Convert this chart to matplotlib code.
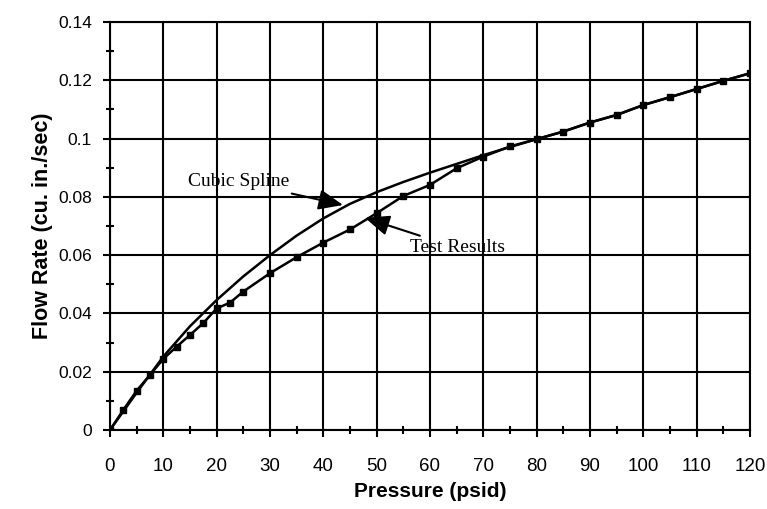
import matplotlib.pyplot as plt
from matplotlib.ticker import MultipleLocator

# Test results (measured)
test_p = [0, 2.5, 5, 7.5, 10, 12.5, 15, 17.5, 20, 22.5, 25, 30, 35, 40, 45, 50, 55,
          60, 65, 70, 75, 80, 85, 90, 95, 100, 105, 110, 115, 120]
test_q = [0, 0.0069, 0.0135, 0.0189, 0.0244, 0.0286, 0.0326, 0.0367, 0.0417, 0.0437,
          0.0475, 0.0538, 0.0593, 0.0643, 0.0688, 0.0744, 0.0803, 0.0841, 0.0898,
          0.0938, 0.0973, 0.0998, 0.1024, 0.1055, 0.1081, 0.1115, 0.1142, 0.1170,
          0.1198, 0.1224]

# Cubic spline fit
spline_p = [0, 5, 10, 15, 20, 25, 30, 35, 40, 45, 50, 55, 60, 65, 70, 75, 80,
            85, 90, 95, 100, 105, 110, 115, 120]
spline_q = [0, 0.0128, 0.0252, 0.0356, 0.0446, 0.0527, 0.0600, 0.0667, 0.0726,
            0.0776, 0.0816, 0.0851, 0.0883, 0.0913, 0.0943, 0.0971, 0.0998,
            0.1024, 0.1055, 0.1081, 0.1115, 0.1142, 0.1170, 0.1198, 0.1224]

fig = plt.figure(figsize=(7.67, 5.09), dpi=100)
ax = fig.add_axes([0.1434, 0.1552, 0.8344, 0.8016])

ax.plot(spline_p, spline_q, color='black', lw=1.8, zorder=3)
ax.plot(test_p, test_q, color='black', lw=1.8, marker='s', markersize=4.5, zorder=4)

ax.set_xlim(0, 120)
ax.set_ylim(0, 0.14)
ax.xaxis.set_major_locator(MultipleLocator(10))
ax.xaxis.set_minor_locator(MultipleLocator(5))
ax.yaxis.set_minor_locator(MultipleLocator(0.01))
ax.set_yticks([0, 0.02, 0.04, 0.06, 0.08, 0.1, 0.12, 0.14])
ax.set_yticklabels(['0', '0.02', '0.04', '0.06', '0.08', '0.1', '0.12', '0.14'])

ax.grid(True, which='major', color='black', lw=1.5)
for s in ax.spines.values():
    s.set_linewidth(1.5)
ax.tick_params(which='major', direction='out', length=5, width=1.5)
ax.tick_params(which='minor', direction='inout', length=6, width=1.5)
ax.tick_params(axis='x', which='major', labelsize=13.5, pad=15)
ax.tick_params(axis='y', which='major', labelsize=12.5, pad=8)
for lab in ax.get_xticklabels() + ax.get_yticklabels():
    lab.set_family('Liberation Sans')

ax.set_xlabel('Pressure (psid)', fontsize=15, fontweight='bold',
              family='Liberation Sans', labelpad=5)
ax.set_ylabel('Flow Rate (cu. in./sec)', fontsize=15.5, fontweight='bold',
              family='Liberation Sans', labelpad=4)

arrow = dict(arrowstyle='-|>,head_length=0.6,head_width=0.25', color='black',
             lw=1.5, mutation_scale=25, shrinkA=2, shrinkB=0)
ax.annotate('Cubic Spline', xy=(43.7, 0.0772), xytext=(14.6, 0.0852),
            fontsize=14, family='Liberation Serif', va='center', ha='left',
            arrowprops=arrow)
ax.annotate('Test Results', xy=(47.8, 0.0728), xytext=(56.2, 0.0625),
            fontsize=14, family='Liberation Serif', va='center', ha='left',
            arrowprops=arrow)

fig.savefig('out.png', dpi=100)
